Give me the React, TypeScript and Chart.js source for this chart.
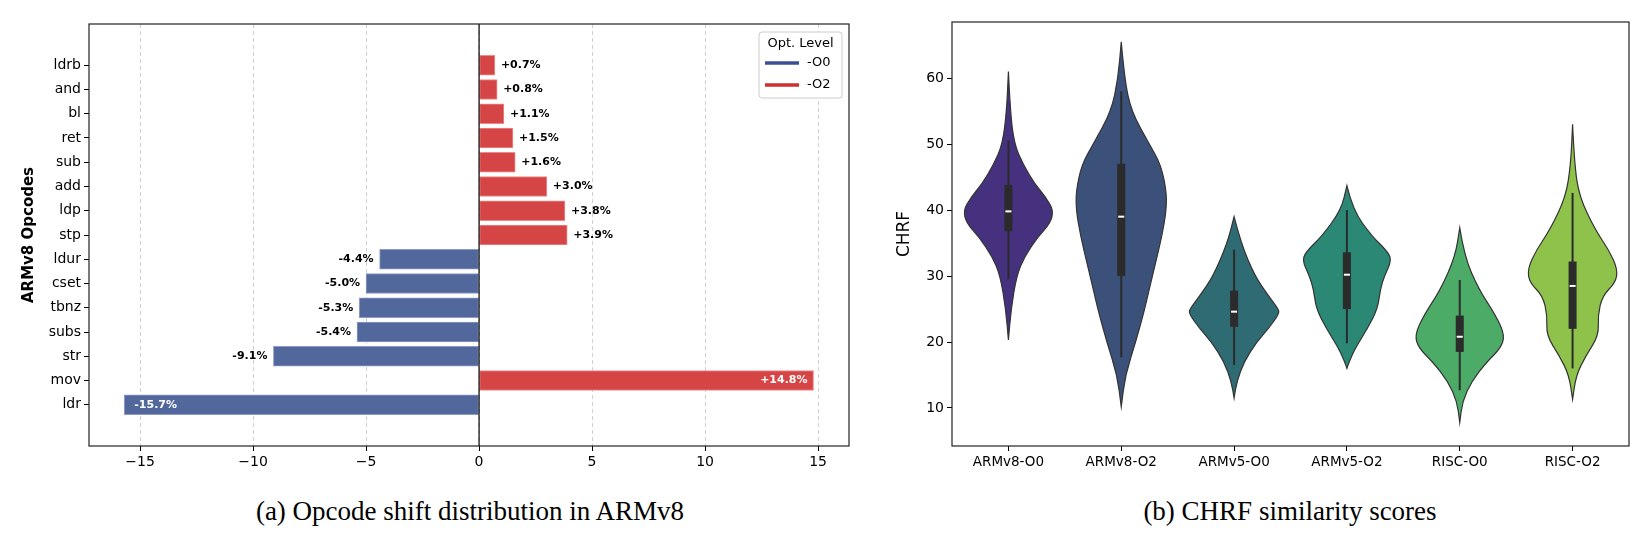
import { useRef, useEffect } from 'react';
import { Chart, registerables } from 'chart.js';

Chart.register(...registerables);

// (a) opcode shift, bottom to top
const opcodes = ['ldr', 'mov', 'str', 'subs', 'tbnz', 'cset', 'ldur', 'stp', 'ldp', 'add', 'sub', 'ret', 'bl', 'and', 'ldrb'];
const shifts = [-15.7, 14.8, -9.1, -5.4, -5.3, -5.0, -4.4, 3.9, 3.8, 3.0, 1.6, 1.5, 1.1, 0.8, 0.7];
const xTicks = [-15, -10, -5, 0, 5, 10, 15];

// (b) CHRF violins: profile knots [score, relative half width]
const groups = ['ARMv8-O0', 'ARMv8-O2', 'ARMv5-O0', 'ARMv5-O2', 'RISC-O0', 'RISC-O2'];
const groupColors = ['#46317e', '#3b5179', '#2f6b73', '#2a8875', '#4dab68', '#8ec24b'];
const profiles: number[][][] = [
  [[61, 0], [55, 0.04], [50, 0.13], [47, 0.32], [44, 0.58], [42, 0.82], [40, 1.0], [38, 0.93], [36, 0.66], [33, 0.36], [30, 0.18], [25, 0.06], [20.3, 0]],
  [[65.5, 0], [60, 0.07], [55, 0.22], [50, 0.62], [47, 0.87], [43, 1.0], [40, 1.0], [36, 0.9], [32, 0.76], [28, 0.62], [25, 0.52], [20, 0.32], [15, 0.09], [10.2, 0]],
  [[39, 0], [35, 0.15], [30, 0.46], [27, 0.76], [25, 0.98], [24.3, 1.0], [22, 0.76], [20, 0.5], [17, 0.22], [14, 0.06], [11.5, 0]],
  [[43.7, 0], [40, 0.13], [36, 0.56], [34, 0.86], [32.5, 1.0], [30, 0.83], [28, 0.74], [25, 0.68], [22, 0.45], [19, 0.18], [17, 0.05], [16, 0]],
  [[37.3, 0], [33, 0.1], [28, 0.42], [24, 0.8], [21, 1.0], [19, 0.9], [17, 0.6], [14, 0.26], [11, 0.06], [7.8, 0]],
  [[53, 0], [47, 0.04], [42, 0.15], [37, 0.5], [34, 0.8], [31, 1.0], [29, 0.95], [27, 0.66], [24, 0.56], [21, 0.58], [18, 0.3], [15, 0.08], [11.3, 0]],
];
const medians = [39.8, 39, 24.6, 30.2, 20.8, 28.5];
const q1s = [36.8, 30, 22.3, 25, 18.5, 22];
const q3s = [43.8, 47, 27.8, 33.6, 24, 32.2];
const whiskLo = [29.5, 17.7, 16.5, 19.8, 12.7, 16];
const whiskHi = [50.5, 58, 34, 40, 29.4, 42.6];
const yTicks = [10, 20, 30, 40, 50, 60];

const BLUE = '#52679b';
const RED = '#d64546';
const tickFont = { family: 'DejaVu Sans', size: 14 };

const frame = {
  id: 'frame',
  afterDraw(chart: any) {
    const { ctx, chartArea: a } = chart;
    ctx.save();
    ctx.strokeStyle = '#222';
    ctx.lineWidth = 1.2;
    ctx.strokeRect(a.left, a.top, a.right - a.left, a.bottom - a.top);
    ctx.restore();
  },
};

const barExtras = {
  id: 'barExtras',
  afterDatasetsDraw(chart: any) {
    const { ctx, scales } = chart;
    const x0 = scales.x.getPixelForValue(0);
    ctx.save();
    ctx.strokeStyle = '#000';
    ctx.lineWidth = 1.2;
    ctx.beginPath();
    ctx.moveTo(x0, chart.chartArea.top);
    ctx.lineTo(x0, chart.chartArea.bottom);
    ctx.stroke();
    ctx.font = 'bold 11px DejaVu Sans';
    ctx.textBaseline = 'middle';
    shifts.forEach((v, i) => {
      const y = scales.y.getPixelForValue(i);
      const xe = scales.x.getPixelForValue(v);
      const txt = (v > 0 ? '+' : '') + v.toFixed(1) + '%';
      const inside = Math.abs(v) > 12;
      ctx.fillStyle = inside ? '#fff' : '#000';
      if (v > 0) {
        ctx.textAlign = inside ? 'right' : 'left';
        ctx.fillText(txt, inside ? xe - 6 : xe + 6, y);
      } else {
        ctx.textAlign = inside ? 'left' : 'right';
        ctx.fillText(txt, inside ? xe + 10 : xe - 6, y);
      }
    });
    // legend
    const lx = 759, ly = 32, lw = 83, lh = 66;
    ctx.fillStyle = 'rgba(255,255,255,0.9)';
    ctx.strokeStyle = '#ccc';
    ctx.lineWidth = 1;
    ctx.beginPath();
    ctx.roundRect(lx, ly, lw, lh, 3);
    ctx.fill();
    ctx.stroke();
    ctx.font = '13px DejaVu Sans';
    ctx.fillStyle = '#000';
    ctx.textAlign = 'center';
    ctx.fillText('Opt. Level', lx + lw / 2, ly + 12);
    ctx.textAlign = 'left';
    [['-O0', '#3d4f94'], ['-O2', '#d12f2f']].forEach(([t, c], k) => {
      const yy = ly + 31 + k * 22;
      ctx.strokeStyle = c;
      ctx.lineWidth = 3.5;
      ctx.beginPath();
      ctx.moveTo(lx + 6, yy);
      ctx.lineTo(lx + 40, yy);
      ctx.stroke();
      ctx.fillText(t, lx + 48, yy);
    });
    ctx.restore();
  },
};

const violins = {
  id: 'violins',
  afterDatasetsDraw(chart: any) {
    const { ctx, scales } = chart;
    const band = scales.x.getPixelForValue(1) - scales.x.getPixelForValue(0);
    const maxHalf = band * 0.4;
    ctx.save();
    groups.forEach((_, i) => {
      const cx = scales.x.getPixelForValue(i);
      const pts = profiles[i].map(([v, w]) => [w * maxHalf, scales.y.getPixelForValue(v)]);
      const right = pts.map(([w, y]) => [cx + w, y]);
      const left = pts.map(([w, y]) => [cx - w, y]).reverse();
      const all = right.concat(left);
      ctx.beginPath();
      ctx.moveTo(all[0][0], all[0][1]);
      for (let k = 1; k < all.length - 1; k++) {
        const mx = (all[k][0] + all[k + 1][0]) / 2;
        const my = (all[k][1] + all[k + 1][1]) / 2;
        ctx.quadraticCurveTo(all[k][0], all[k][1], mx, my);
      }
      ctx.lineTo(all[all.length - 1][0], all[all.length - 1][1]);
      ctx.closePath();
      ctx.fillStyle = groupColors[i];
      ctx.fill();
      ctx.strokeStyle = '#333';
      ctx.lineWidth = 1.2;
      ctx.stroke();
      // whiskers
      ctx.strokeStyle = '#2b2b2b';
      ctx.lineWidth = 2;
      ctx.beginPath();
      ctx.moveTo(cx, scales.y.getPixelForValue(whiskLo[i]));
      ctx.lineTo(cx, scales.y.getPixelForValue(whiskHi[i]));
      ctx.stroke();
      ctx.fillStyle = '#2b2b2b';
      const yq3 = scales.y.getPixelForValue(q3s[i]);
      const yq1 = scales.y.getPixelForValue(q1s[i]);
      ctx.fillRect(cx - 4, yq3, 8, yq1 - yq3);
      ctx.strokeStyle = '#fff';
      ctx.lineWidth = 2;
      const ym = scales.y.getPixelForValue(medians[i]);
      ctx.beginPath();
      ctx.moveTo(cx - 3, ym);
      ctx.lineTo(cx + 3, ym);
      ctx.stroke();
    });
    ctx.restore();
  },
};

const ShiftChart = () => {
  const ref = useRef<HTMLCanvasElement | null>(null);
  useEffect(() => {
    const chart = new Chart(ref.current!, {
      type: 'bar',
      data: {
        datasets: [{
          data: shifts.map((v, i) => ({ x: v, y: i })),
          backgroundColor: shifts.map(v => (v < 0 ? BLUE : RED)),
          borderColor: shifts.map(v => (v < 0 ? '#8d9bc4' : '#ee8a8a')),
          borderWidth: 1,
          borderSkipped: false,
          barThickness: 20,
        }],
      },
      options: {
        animation: false,
        responsive: false,
        indexAxis: 'y',
        layout: { padding: { top: 24, right: 21, left: 0, bottom: 0 } },
        plugins: { legend: { display: false }, tooltip: { enabled: false } },
        scales: {
          x: {
            type: 'linear', min: -17.26, max: 16.37,
            afterBuildTicks: (s: any) => { s.ticks = xTicks.map(v => ({ value: v })); },
            afterFit: (s: any) => { s.height = 34; },
            ticks: { font: tickFont, color: '#000', callback: (v: any) => (v < 0 ? '\u2212' + Math.abs(v) : String(v)) },
            grid: { color: '#d0d0d0', tickColor: '#000', tickLength: 5, drawTicks: true, offset: false },
            border: { display: false, dash: [4, 3] },
          },
          y: {
            type: 'linear', min: -1.12, max: 15.12,
            afterBuildTicks: (s: any) => { s.ticks = opcodes.map((_, i) => ({ value: i })); },
            afterFit: (s: any) => { s.width = 89; },
            ticks: { font: tickFont, color: '#000', callback: (v: any) => opcodes[v] ?? '' },
            grid: { drawOnChartArea: false, tickColor: '#000', tickLength: 5, offset: false },
            border: { display: false },
            title: { display: true, text: 'ARMv8 Opcodes', color: '#000', font: { family: 'DejaVu Sans', size: 15, weight: 'bold' }, padding: { top: 20, bottom: 0 } },
          },
        },
      },
      plugins: [barExtras, frame],
    } as any);
    return () => chart.destroy();
  }, []);
  return <canvas ref={ref} width={870} height={480} style={{ position: 'absolute', left: 0, top: 0 }} />;
};

const ViolinChart = () => {
  const ref = useRef<HTMLCanvasElement | null>(null);
  useEffect(() => {
    const chart = new Chart(ref.current!, {
      type: 'bar',
      data: { labels: groups, datasets: [{ data: groups.map(() => null) }] },
      options: {
        animation: false,
        responsive: false,
        layout: { padding: { top: 22, right: 20, left: 0, bottom: 0 } },
        plugins: { legend: { display: false }, tooltip: { enabled: false } },
        scales: {
          x: {
            afterFit: (s: any) => { s.height = 34; },
            ticks: { font: { family: 'DejaVu Sans', size: 13.5 }, color: '#000', maxRotation: 0 },
            grid: { drawOnChartArea: false, tickColor: '#000', tickLength: 5, offset: false },
            border: { display: false },
          },
          y: {
            type: 'linear', min: 4.24, max: 68.5,
            afterBuildTicks: (s: any) => { s.ticks = yTicks.map(v => ({ value: v })); },
            afterFit: (s: any) => { s.width = 82; },
            ticks: { font: tickFont, color: '#000' },
            grid: { drawOnChartArea: false, tickColor: '#000', tickLength: 5 },
            border: { display: false },
            title: { display: true, text: 'CHRF', color: '#000', font: { family: 'DejaVu Sans', size: 17 }, padding: { top: 24, bottom: 0 } },
          },
        },
      },
      plugins: [violins, frame],
    } as any);
    return () => chart.destroy();
  }, []);
  return <canvas ref={ref} width={779} height={480} style={{ position: 'absolute', left: 870, top: 0 }} />;
};

const caption: React.CSSProperties = {
  position: 'absolute', top: 496, fontFamily: '"Liberation Serif", "Times New Roman", serif',
  fontSize: 27, color: '#000', textAlign: 'center', width: 700, whiteSpace: 'nowrap',
};

export default function App() {
  return (
    <div style={{ position: 'absolute', left: 0, top: 0, width: 1649, height: 546, background: '#fff', overflow: 'hidden' }}>
      <ShiftChart />
      <ViolinChart />
      <div style={{ ...caption, left: 120 }}>(a) Opcode shift distribution in ARMv8</div>
      <div style={{ ...caption, left: 940 }}>(b) CHRF similarity scores</div>
    </div>
  );
}
